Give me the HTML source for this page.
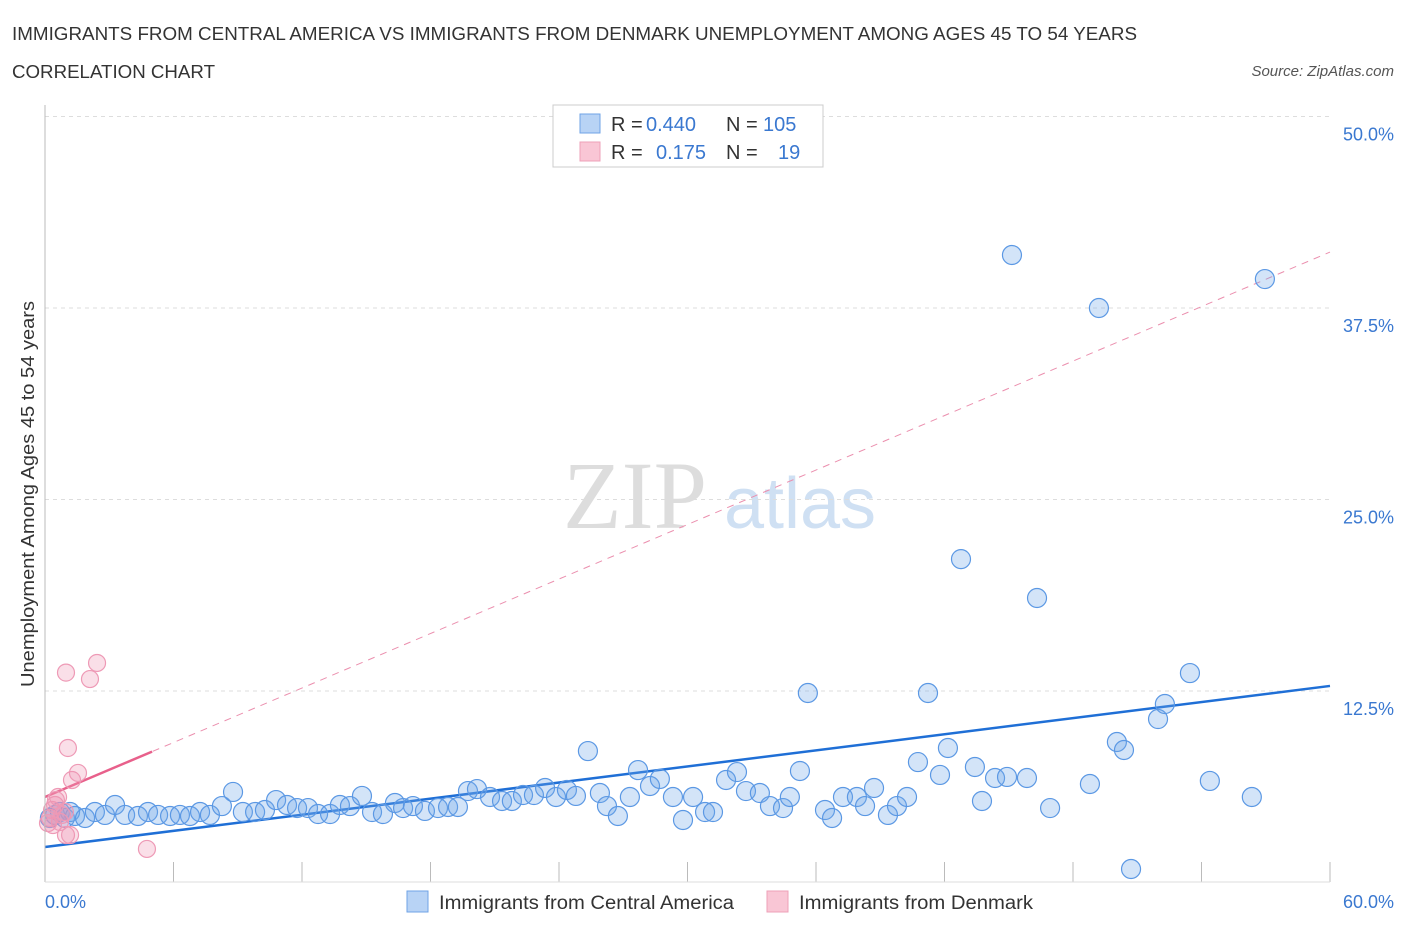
<!DOCTYPE html>
<html><head><meta charset="utf-8"><style>
body{margin:0;background:#fff;font-family:"Liberation Sans",sans-serif;}
svg{display:block}
</style></head><body>
<svg id="chart" width="1406" height="930">
<text x="12" y="40" font-size="18" fill="#333" textLength="1125" lengthAdjust="spacingAndGlyphs">IMMIGRANTS FROM CENTRAL AMERICA VS IMMIGRANTS FROM DENMARK UNEMPLOYMENT AMONG AGES 45 TO 54 YEARS</text>
<text x="12" y="78" font-size="18" fill="#333" textLength="203" lengthAdjust="spacingAndGlyphs">CORRELATION CHART</text>
<text x="1394" y="76" font-size="15" fill="#555" font-style="italic" text-anchor="end">Source: ZipAtlas.com</text>
<text x="635" y="528" font-size="96" fill="#ddd" font-family="Liberation Serif,serif" text-anchor="middle">ZIP</text>
<text x="800" y="528" font-size="72" fill="#cfe0f3" text-anchor="middle">atlas</text>
<text transform="translate(34,494) rotate(-90)" font-size="18" fill="#333" text-anchor="middle" textLength="386" lengthAdjust="spacingAndGlyphs">Unemployment Among Ages 45 to 54 years</text>
<g id="grid"></g><g id="ticks"></g><g id="lines"></g><g id="pts"></g>
<line x1="45" y1="105" x2="45" y2="882" stroke="#bbb"/>
<line x1="45" y1="882" x2="1330" y2="882" stroke="#ddd"/>
<text x="45" y="908" font-size="18" fill="#3a78d0">0.0%</text>
<text x="1394" y="908" font-size="18" fill="#3a78d0" text-anchor="end">60.0%</text>
<g font-size="20">
<rect x="553" y="105" width="270" height="62" fill="#fff" stroke="#ccc"/>
<rect x="580" y="114" width="20" height="19" fill="#b8d3f5" stroke="#6fa3e6"/>
<rect x="580" y="142" width="20" height="19" fill="#f9c6d5" stroke="#eea0b8"/>
<text x="611" y="131" fill="#333">R =</text>
<text x="646" y="131" fill="#3a78d0">0.440</text>
<text x="726" y="131" fill="#333">N =</text>
<text x="763" y="131" fill="#3a78d0">105</text>
<text x="611" y="159" fill="#333">R =</text>
<text x="656" y="159" fill="#3a78d0">0.175</text>
<text x="726" y="159" fill="#333">N =</text>
<text x="778" y="159" fill="#3a78d0">19</text>
</g>
<g>
<rect x="407" y="891" width="21" height="21" fill="#b8d3f5" stroke="#6fa3e6"/>
<text x="439" y="909" font-size="19" fill="#333" textLength="295" lengthAdjust="spacingAndGlyphs">Immigrants from Central America</text>
<rect x="767" y="891" width="21" height="21" fill="#f9c6d5" stroke="#eea0b8"/>
<text x="799" y="909" font-size="19" fill="#333" textLength="234" lengthAdjust="spacingAndGlyphs">Immigrants from Denmark</text>
</g>
</svg>
<script>
const yTicks=[12.5,25,37.5,50];
const yTickLabels=["12.5%","25.0%","37.5%","50.0%"];
const xTicks=[0,6,12,18,24,30,36,42,48,54,60];
const blueX=[0.23,0.47,0.70,0.93,1.17,1.40,1.87,2.33,2.80,3.27,3.74,4.34,4.81,5.28,5.84,6.30,6.77,7.24,7.70,8.26,8.78,9.24,9.81,10.27,10.79,11.30,11.77,12.28,12.75,13.31,13.77,14.24,14.80,15.27,15.78,16.34,16.72,17.18,17.74,18.35,18.82,19.28,19.75,20.17,20.78,21.34,21.80,22.32,22.83,23.35,23.86,24.37,24.79,25.35,25.91,26.24,26.75,27.31,27.69,28.25,28.71,29.32,29.79,30.26,30.82,31.19,31.80,32.31,32.73,33.38,33.85,34.46,34.78,35.25,35.62,36.42,36.75,37.26,37.91,38.29,38.71,39.36,39.78,40.25,40.76,41.23,41.79,42.16,42.77,43.42,43.75,44.36,44.92,45.15,45.85,46.32,46.93,48.79,49.21,50.05,50.38,50.71,51.97,52.29,53.46,54.39,56.35,56.96];
const blueY=[4.21,4.41,4.60,4.21,4.60,4.34,4.21,4.60,4.41,5.06,4.41,4.34,4.60,4.41,4.34,4.41,4.34,4.60,4.41,4.99,5.91,4.60,4.60,4.73,5.38,5.06,4.86,4.86,4.47,4.47,5.06,4.99,5.65,4.60,4.47,5.19,4.86,4.99,4.67,4.86,4.93,4.93,5.97,6.10,5.58,5.32,5.32,5.71,5.71,6.17,5.58,6.04,5.65,8.58,5.84,4.99,4.34,5.58,7.34,6.30,6.76,5.58,4.08,5.58,4.60,4.60,6.69,7.21,5.97,5.84,4.99,4.86,5.58,7.28,12.37,4.73,4.21,5.58,5.58,4.99,6.17,4.41,4.99,5.58,7.86,12.37,7.02,8.78,21.11,7.54,5.32,6.82,6.89,40.96,6.82,18.57,4.86,6.43,37.50,9.17,8.65,0.88,10.67,11.65,13.67,6.63,5.58,39.39];
const pinkX=[0.23,0.33,0.47,0.61,0.70,0.79,0.93,0.98,1.07,1.17,1.26,1.54,0.98,2.10,2.43,4.76,0.51,0.14,0.37];
const pinkY=[4.21,4.73,5.06,5.58,3.95,4.41,4.60,3.10,8.78,3.10,6.69,7.15,13.70,13.28,14.33,2.19,5.38,3.88,3.75];
const blueTrend=[2.32,12.83];
const pinkTrend=[5.58,41.15];
const pinkSolidEnd=5.0;
const NS="http://www.w3.org/2000/svg";
const sx=v=>45+v/60*1285, sy=v=>882.5-v/12.5*191.5;
function mk(t,a,p){const e=document.createElementNS(NS,t);for(const k in a)e.setAttribute(k,a[k]);p.appendChild(e);return e;}
const grid=document.getElementById('grid'),ticks=document.getElementById('ticks'),lines=document.getElementById('lines'),pts=document.getElementById('pts');
yTicks.forEach((v,i)=>{
 const l=mk('line',{x1:45,x2:1330,y1:sy(v),y2:sy(v),stroke:'#ddd','stroke-dasharray':'4,4'},grid);
 
 
 const t=mk('text',{x:1394,y:sy(v)+24,'font-size':18,fill:'#3a78d0','text-anchor':'end'},grid);
 t.textContent=yTickLabels[i];
 
 
});
xTicks.forEach(v=>{
 const l=mk('line',{x1:sx(v),x2:sx(v),y1:862,y2:882,stroke:'#bbb'},ticks);
 
 
});
let e=mk('line',{x1:sx(0),y1:sy(pinkTrend[0]),x2:sx(60),y2:sy(pinkTrend[1]),stroke:'#eb8fae','stroke-width':1,'stroke-dasharray':'7,6'},lines);


e=mk('line',{x1:sx(0),y1:sy(pinkTrend[0]),x2:sx(pinkSolidEnd),y2:sy(pinkTrend[0]+(pinkTrend[1]-pinkTrend[0])*pinkSolidEnd/60),stroke:'#e8608b','stroke-width':2.5},lines);


e=mk('line',{x1:sx(0),y1:sy(blueTrend[0]),x2:sx(60),y2:sy(blueTrend[1]),stroke:'#1f6fd6','stroke-width':2.5},lines);


blueX.forEach((x,i)=>{
 const c=mk('circle',{cx:sx(x),cy:sy(blueY[i]),r:9.5,fill:'rgba(110,165,232,0.3)',stroke:'#5b98e4','stroke-width':1.2},pts);
 
 
});
pinkX.forEach((x,i)=>{
 const c=mk('circle',{cx:sx(x),cy:sy(pinkY[i]),r:8.5,fill:'rgba(240,150,180,0.3)',stroke:'#ee9ab6','stroke-width':1.2},pts);
 
 
});
</script>
</body></html>
